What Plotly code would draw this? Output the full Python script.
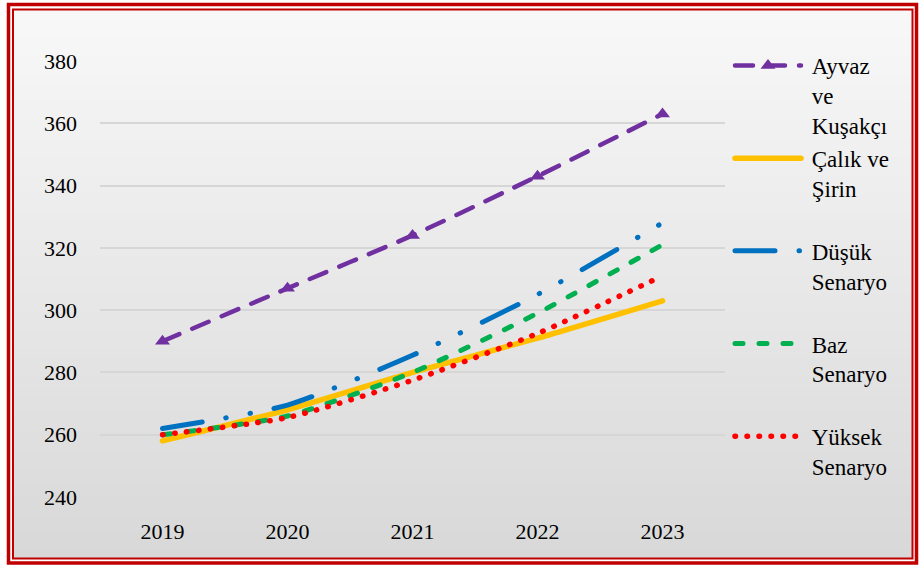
import plotly.graph_objects as go

years = ["2019", "2020", "2021", "2022", "2023"]
ayvaz = [290, 307, 324, 343, 363]
calik = [258, 268, 280, 291, 303]
dusuk = [262, 269.5, 285.5, 305, 328]
baz = [260, 266, 280, 299, 321]
yuksek = [260, 265.5, 277.5, 292.5, 311]
label_lines = [["Ayvaz", "ve", "Kuşakçı"], ["Çalık ve", "Şirin", " "], ["Düşük", "Senaryo", " "],
               ["Baz", "Senaryo", " "], ["Yüksek", "Senaryo", " "]]
y_ticks = [240, 260, 280, 300, 320, 340, 360, 380]

names = ["<br>".join("\u00a0" + s for s in lines) for lines in label_lines]

W, H = 919, 566
L, R, T, B = 100, 725, 61, 497
PW, PH = R - L, B - T


def px(x):
    return (x - L) / PW


def py(y):
    return (B - y) / PH


FONT = "Liberation Serif, Times New Roman, serif"

fig = go.Figure()
fig.add_trace(go.Scatter(x=years, y=ayvaz, name=names[0], mode="lines+markers",
                         line=dict(color="#7030A0", width=4.5, dash="18px,14px", shape="spline", smoothing=0.6),
                         marker=dict(symbol="triangle-up", size=13, color="#7030A0")))
fig.add_trace(go.Scatter(x=years, y=calik, name=names[1], mode="lines",
                         line=dict(color="#FFC000", width=5.5, shape="spline", smoothing=0.6)))
fig.add_trace(go.Scatter(x=years, y=dusuk, name=names[2], mode="lines",
                         line=dict(color="#0070C0", width=5, dash="40px,24px,0.5px,24px,0.5px,24px",
                                   shape="spline", smoothing=0.6)))
fig.add_trace(go.Scatter(x=years, y=baz, name=names[3], mode="lines",
                         line=dict(color="#00B050", width=5, dash="8px,16px", shape="spline", smoothing=0.6)))
fig.add_trace(go.Scatter(x=years, y=yuksek, name=names[4], mode="lines",
                         line=dict(color="#FF0000", width=5.5, dash="0.5px,11.5px", shape="spline", smoothing=0.6)))

shapes = []
# gradient background stripes
top_y, bot_y = 10, 559
n = 60
for i in range(n):
    y0 = top_y + (bot_y - top_y) * i / n
    y1 = top_y + (bot_y - top_y) * (i + 1) / n + 0.6
    t = (i + 0.5) / n
    c = int(round(248 - (248 - 216) * t))
    shapes.append(dict(type="rect", xref="paper", yref="paper", layer="below",
                       x0=px(13), x1=px(913), y0=py(y0), y1=py(min(y1, bot_y)),
                       fillcolor=f"rgb({c},{c},{c})", line=dict(width=0)))
# double red border
shapes.append(dict(type="rect", xref="paper", yref="paper", layer="above",
                   x0=px(8.5), x1=px(916.5), y0=py(4.5), y1=py(563),
                   line=dict(color="#C00000", width=3.5)))
shapes.append(dict(type="rect", xref="paper", yref="paper", layer="above",
                   x0=px(13), x1=px(912.5), y0=py(9.5), y1=py(558.5),
                   line=dict(color="#C00000", width=2)))

fig.update_layout(
    width=W, height=H,
    margin=dict(l=L, r=W - R, t=T, b=H - B, pad=0),
    paper_bgcolor="white", plot_bgcolor="rgba(0,0,0,0)",
    font=dict(family=FONT, size=23, color="black"),
    shapes=shapes,
    showlegend=True,
    legend=dict(x=px(730), y=py(44), xanchor="left", yanchor="top",
                bgcolor="rgba(0,0,0,0)", font=dict(family=FONT, size=23, color="black"),
                valign="top", itemwidth=66, tracegroupgap=0, traceorder="normal",
                maxheight=560),
    xaxis=dict(type="category", categoryorder="array", categoryarray=years,
               range=[-0.5, 4.5], showgrid=False, showline=False, zeroline=False,
               ticks="", ticklabelstandoff=19, tickfont=dict(family=FONT, size=22)),
    yaxis=dict(range=[240, 380], tickvals=y_ticks, showgrid=True, gridcolor="#d6d6d6",
               gridwidth=1.5, showline=False, zeroline=False, ticks="",
               ticklabelstandoff=22, tickfont=dict(family=FONT, size=22)),
)

post = """
document.body.style.margin='0';
document.body.style.padding='0';
var gd = document.getElementById('{plot_id}');
function fixCaps(){
  gd.querySelectorAll('path.js-line, .legendlines path').forEach(function(p){
    p.style.strokeLinecap='round'; p.style.strokeLinejoin='round';
  });
}
fixCaps();
gd.on('plotly_afterplot', fixCaps);
"""
fig.write_html("out.html", post_script=post, config={"displayModeBar": False})
